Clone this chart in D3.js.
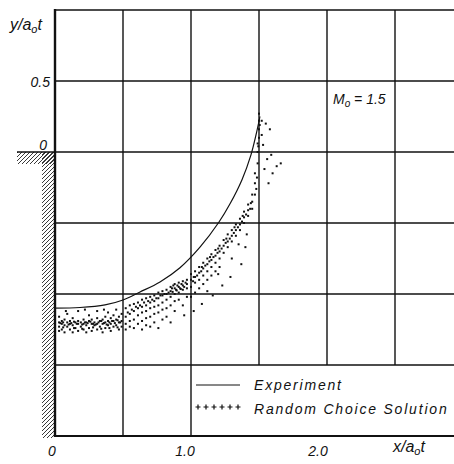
<!DOCTYPE html>
<html><head><meta charset="utf-8">
<script src="https://cdn.jsdelivr.net/npm/d3@7"></script>
<style>
body{margin:0;background:#fff}
svg{display:block}
text{font-family:"Liberation Sans",Arial,sans-serif;font-style:italic;fill:#111}
</style>
</head><body><svg id="c" width="454" height="464"></svg>
<script>
// ---- data ----
const xTicks = [0, 1, 2];
const xTickLabels = ["0", "1.0", "2.0"];
const yTicks = [0.5, 0];
const yTickLabels = ["0.5", "0"];
const gridX = [0.5, 1, 1.5, 2, 2.5, 3];
const gridY = [1, 0.5, 0, -0.5, -1, -1.5, -2];
const legendLabels = ["Experiment", "Random Choice Solution"];
const machValue = "1.5";

// Experiment (solid line)
const expX = [0, 0.184, 0.368, 0.5, 0.625, 0.772, 0.919, 1.066, 1.206, 1.287, 1.375, 1.441, 1.478, 1.507];
const expY = [-1.099, -1.095, -1.077, -1.042, -0.986, -0.915, -0.815, -0.670, -0.493, -0.365, -0.195, -0.020, 0.120, 0.250];

// Random Choice Solution (dots)
const rcsPoints = [
 [0.03,-1.16],[0.03,-1.20],[0.03,-1.23],[0.03,-1.26],[0.05,-1.19],[0.05,-1.21],[0.05,-1.25],
 [0.07,-1.18],[0.07,-1.22],[0.07,-1.27],[0.09,-1.20],[0.09,-1.23],[0.09,-1.14],[0.11,-1.19],
 [0.11,-1.21],[0.11,-1.25],[0.13,-1.17],[0.13,-1.22],[0.13,-1.27],[0.15,-1.20],[0.15,-1.24],
 [0.17,-1.19],[0.17,-1.21],[0.17,-1.26],[0.17,-1.12],[0.19,-1.20],[0.19,-1.23],[0.21,-1.18],
 [0.21,-1.21],[0.21,-1.25],[0.23,-1.20],[0.23,-1.22],[0.23,-1.27],[0.25,-1.19],[0.25,-1.24],
 [0.25,-1.15],[0.27,-1.18],[0.27,-1.21],[0.27,-1.26],[0.29,-1.20],[0.29,-1.22],[0.31,-1.17],
 [0.31,-1.21],[0.31,-1.25],[0.31,-1.12],[0.33,-1.19],[0.33,-1.23],[0.35,-1.18],[0.35,-1.21],
 [0.35,-1.27],[0.37,-1.16],[0.37,-1.20],[0.37,-1.24],[0.39,-1.19],[0.39,-1.22],[0.39,-1.13],
 [0.41,-1.17],[0.41,-1.21],[0.41,-1.26],[0.43,-1.15],[0.43,-1.19],[0.43,-1.23],[0.45,-1.18],
 [0.45,-1.22],[0.45,-1.11],[0.47,-1.16],[0.47,-1.20],[0.47,-1.25],[0.49,-1.14],[0.49,-1.19],
 [0.49,-1.23],[0.08,-1.12],[0.22,-1.11],[0.36,-1.11],
 [0.04,-1.205],[0.06,-1.20],[0.10,-1.215],[0.12,-1.205],[0.14,-1.195],[0.16,-1.21],[0.20,-1.215],
 [0.22,-1.20],[0.24,-1.205],[0.26,-1.195],[0.28,-1.21],[0.30,-1.215],[0.32,-1.20],[0.34,-1.19],
 [0.36,-1.205],[0.38,-1.215],[0.40,-1.20],[0.42,-1.19],[0.44,-1.205],[0.46,-1.185],[0.48,-1.20],
 [0.06,-1.235],[0.14,-1.24],[0.20,-1.245],[0.28,-1.235],[0.34,-1.245],[0.40,-1.24],[0.46,-1.235],
 [0.52,-1.10],[0.52,-1.16],[0.52,-1.21],[0.52,-1.25],[0.55,-1.08],[0.55,-1.14],[0.55,-1.19],
 [0.55,-1.23],[0.58,-1.07],[0.58,-1.12],[0.58,-1.18],[0.58,-1.24],[0.61,-1.06],[0.61,-1.10],
 [0.61,-1.15],[0.61,-1.21],[0.64,-1.04],[0.64,-1.09],[0.64,-1.13],[0.64,-1.19],[0.64,-1.25],
 [0.67,-1.03],[0.67,-1.08],[0.67,-1.12],[0.67,-1.17],[0.67,-1.22],[0.70,-1.02],[0.70,-1.06],
 [0.70,-1.10],[0.70,-1.16],[0.70,-1.23],[0.73,-1.01],[0.73,-1.05],[0.73,-1.09],[0.73,-1.14],
 [0.73,-1.20],[0.76,-0.99],[0.76,-1.03],[0.76,-1.08],[0.76,-1.13],[0.76,-1.24],[0.79,-0.98],
 [0.79,-1.01],[0.79,-1.06],[0.79,-1.11],[0.79,-1.18],[0.82,-0.97],[0.82,-1.00],[0.82,-1.04],
 [0.82,-1.10],[0.82,-1.16],[0.85,-0.95],[0.85,-0.98],[0.85,-1.02],[0.85,-1.08],[0.85,-1.20],
 [0.88,-0.93],[0.88,-0.96],[0.88,-1.00],[0.88,-1.05],[0.88,-1.12],[0.91,-0.92],[0.91,-0.95],
 [0.91,-0.99],[0.91,-1.04],[0.94,-0.91],[0.94,-0.94],[0.94,-0.97],[0.94,-1.08],[0.97,-0.90],
 [0.97,-0.93],[0.97,-0.96],[0.97,-1.02],[0.86,-0.96],[0.87,-0.94],[0.89,-0.97],[0.90,-0.94],
 [0.92,-0.96],[0.93,-0.93],[0.95,-0.95],[0.96,-0.92],
 [0.535,-1.13],[0.565,-1.11],[0.595,-1.09],[0.625,-1.08],[0.655,-1.06],[0.685,-1.05],[0.715,-1.04],
 [0.745,-1.03],[0.775,-1.01],[0.805,-1.00],[0.835,-0.99],[0.865,-0.985],[0.895,-0.975],[0.925,-0.965],
 [1.00,-0.95],[1.00,-0.90],[1.00,-0.86],[1.00,-1.02],[1.03,-0.92],[1.03,-0.88],[1.03,-0.84],
 [1.03,-0.99],[1.06,-0.90],[1.06,-0.85],[1.06,-0.81],[1.06,-0.96],[1.09,-0.87],[1.09,-0.82],
 [1.09,-0.78],[1.09,-0.93],[1.12,-0.84],[1.12,-0.79],[1.12,-0.75],[1.12,-0.90],[1.15,-0.81],
 [1.15,-0.76],[1.15,-0.72],[1.15,-0.87],[1.18,-0.78],[1.18,-0.73],[1.18,-0.69],[1.18,-0.84],
 [1.21,-0.75],[1.21,-0.70],[1.21,-0.66],[1.21,-0.81],[1.24,-0.71],[1.24,-0.66],[1.24,-0.62],
 [1.27,-0.67],[1.27,-0.63],[1.27,-0.58],[1.30,-0.63],[1.30,-0.59],[1.30,-0.55],[1.33,-0.59],
 [1.33,-0.55],[1.33,-0.51],[1.36,-0.55],[1.36,-0.51],[1.36,-0.47],[1.39,-0.50],[1.39,-0.46],
 [1.39,-0.42],[1.42,-0.45],[1.42,-0.41],[1.42,-0.37],[1.45,-0.40],[1.45,-0.35],[1.45,-0.30],
 [1.47,-0.30],[1.47,-0.22],[1.47,-0.15],[1.49,-0.08],[1.49,0.00],[1.49,0.06],[1.50,0.10],
 [1.50,0.16],[1.50,0.22],[1.50,0.27],
 [1.015,-0.91],[1.045,-0.87],[1.075,-0.84],[1.105,-0.80],[1.135,-0.77],[1.165,-0.74],[1.195,-0.71],
 [1.225,-0.68],[1.255,-0.64],[1.285,-0.61],[1.315,-0.57],[1.345,-0.53],[1.375,-0.49],[1.405,-0.44],
 [1.435,-0.40],[1.02,-0.88],[1.08,-0.81],[1.14,-0.74],[1.20,-0.68],[1.26,-0.61],[1.32,-0.53],
 [1.38,-0.45],[1.44,-0.36],[1.48,-0.26],[1.485,-0.18],[1.495,0.04],[1.505,0.19],
 [1.52,0.22],[1.55,0.20],[1.58,0.16],[1.53,0.05],[1.56,-0.05],[1.54,-0.12],[1.60,-0.15],
 [1.57,-0.22],[1.63,-0.10],[1.52,0.12],[1.66,-0.08],[1.59,-0.02],
 [1.41,-0.58],[1.40,-0.67],[1.37,-0.79],[1.29,-0.88],[1.23,-0.94],[1.16,-1.01],[1.08,-1.07],
 [1.02,-1.12],[0.95,-1.15],[1.12,-0.98],[1.30,-0.75],[1.35,-0.65],[1.20,-0.86]
];

// ---- scales ----
const W = 454, H = 464;
const x = d3.scaleLinear().domain([0, 1]).range([55, 191]);
const y = d3.scaleLinear().domain([0, 1]).range([152, 10]);
const svg = d3.select("#c");

// ---- hatching (wall) ----
const defs = svg.append("defs");
defs.append("clipPath").attr("id", "wallV").append("rect")
  .attr("x", x(0) - 13).attr("y", y(0)).attr("width", 13).attr("height", y(-2) - y(0) + 2);
defs.append("clipPath").attr("id", "wallH").append("rect")
  .attr("x", 17).attr("y", y(0)).attr("width", x(0) - 17).attr("height", 12);
const hatch = (clip, x0, x1, y0, y1) => {
  const g = svg.append("g").attr("clip-path", `url(#${clip})`);
  g.selectAll("line").data(d3.range(y0, y1 + 20, 4)).join("line")
    .attr("x1", x0).attr("y1", d => d).attr("x2", x1).attr("y2", d => d - (x1 - x0))
    .attr("stroke", "#222").attr("stroke-width", 0.9);
};
hatch("wallV", x(0) - 14, x(0), y(0), y(-2) + 4);
hatch("wallH", 14, x(0), y(0), y(0) + 40);

// ---- grid ----
const g = svg.append("g").attr("stroke", "#111").attr("fill", "none");
gridY.forEach(v => {
  g.append("line").attr("x1", v === 0 ? 17 : x(0)).attr("x2", W)
    .attr("y1", y(v)).attr("y2", y(v)).attr("stroke-width", v === -2 ? 2 : 1.4);
});
gridX.forEach(v => {
  g.append("line").attr("x1", x(v)).attr("x2", x(v))
    .attr("y1", y(1)).attr("y2", v > 1 ? y(-1.5) : y(-2)).attr("stroke-width", 1.4);
});
g.append("line").attr("x1", x(0)).attr("x2", x(0)).attr("y1", y(1) - 1).attr("y2", y(-2) + 1)
  .attr("stroke-width", 2.4);

// ---- experiment curve ----
const expData = expX.map((v, i) => [v, expY[i]]);
svg.append("path").datum(expData)
  .attr("d", d3.line().x(d => x(d[0])).y(d => y(d[1])).curve(d3.curveCatmullRom.alpha(0.5)))
  .attr("fill", "none").attr("stroke", "#111").attr("stroke-width", 1.2);

// ---- random choice points ----
svg.append("g").selectAll("rect").data(rcsPoints).join("rect")
  .attr("x", d => x(d[0]) - 1).attr("y", d => y(d[1]) - 1)
  .attr("width", 2).attr("height", 2).attr("fill", "#111");

// ---- tick labels ----
svg.append("g").selectAll("text").data(xTicks).join("text")
  .attr("x", (d, i) => x(d) - 3 - i * 3).attr("y", 456)
  .attr("text-anchor", "middle").attr("font-size", 14)
  .text((d, i) => xTickLabels[i]);
svg.append("g").selectAll("text").data(yTicks).join("text")
  .attr("x", (d, i) => i === 0 ? 50 : 47).attr("y", d => y(d) - 2 + (d === 0.5 ? 8 : 0))
  .attr("text-anchor", "end").attr("font-size", 14)
  .text((d, i) => yTickLabels[i]);

// ---- axis titles ----
const yt = svg.append("text").attr("x", 10).attr("y", 30).attr("font-size", 16);
yt.append("tspan").text("y/a");
yt.append("tspan").attr("font-size", 11).attr("dy", 3).text("o");
yt.append("tspan").attr("dy", -3).text("t");
const xt = svg.append("text").attr("x", 393).attr("y", 452).attr("font-size", 16);
xt.append("tspan").text("x/a");
xt.append("tspan").attr("font-size", 11).attr("dy", 3).text("o");
xt.append("tspan").attr("dy", -3).text("t");

// ---- Mach label ----
const mt = svg.append("text").attr("x", 333).attr("y", 104).attr("font-size", 14);
mt.append("tspan").text("M");
mt.append("tspan").attr("font-size", 10).attr("dy", 3).text("o");
mt.append("tspan").attr("dy", -3).text(" = " + machValue);

// ---- legend ----
const lg = svg.append("g");
lg.append("line").attr("x1", 196).attr("x2", 240).attr("y1", 385).attr("y2", 385)
  .attr("stroke", "#111").attr("stroke-width", 1);
lg.append("g").selectAll("path").data(d3.range(6)).join("path")
  .attr("d", d => { const cx = 198 + d * 8, cy = 407; return `M${cx-2.5},${cy}H${cx+2.5}M${cx},${cy-2.5}V${cy+2.5}`; })
  .attr("stroke", "#111").attr("stroke-width", 1.2);
lg.selectAll("text").data(legendLabels).join("text")
  .attr("x", 254).attr("y", (d, i) => 390 + i * 24)
  .attr("font-size", 14).attr("letter-spacing", 1.8).text(d => d);
</script>
</body></html>
